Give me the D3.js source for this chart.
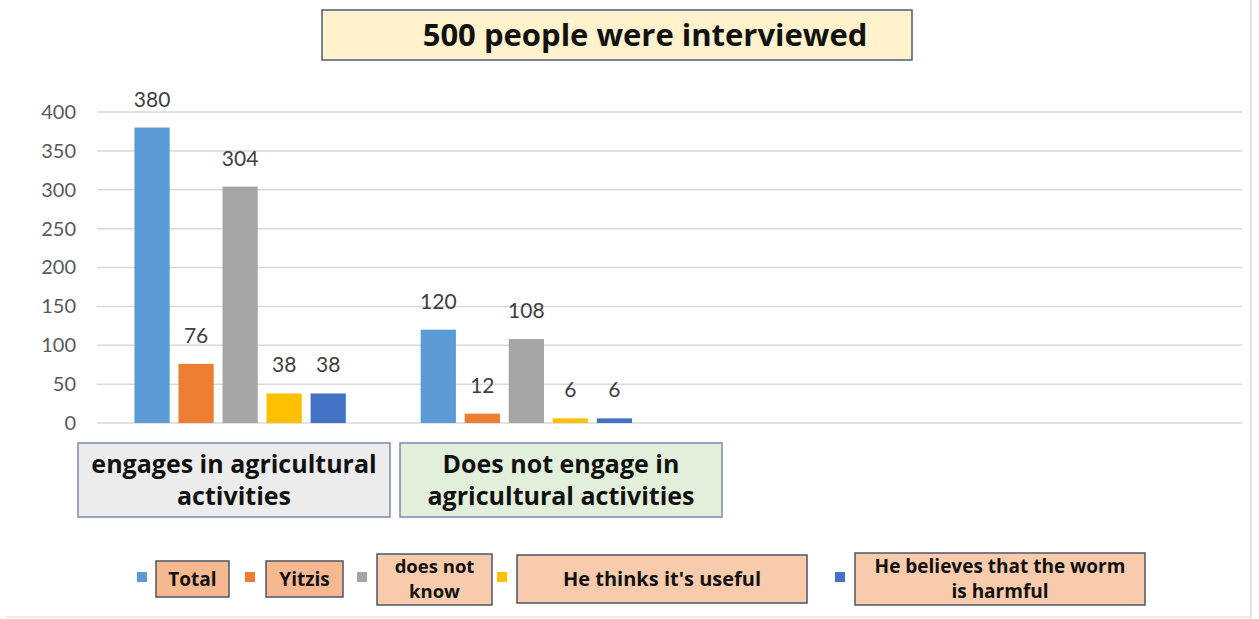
<!DOCTYPE html>
<html>
<head>
    <meta charset="utf-8">
    <title>500 people were interviewed</title>
    <script src="https://d3js.org/d3.v7.min.js"></script>
    <style>
        body { margin: 0; background: #fff; }
        .grid line { stroke: #d9d9d9; stroke-width: 1.5px; }
        .ytick text { font: 20px Lato, sans-serif; fill: #595959; }
        .value { font: 21px Lato, sans-serif; fill: #404040; text-anchor: middle; }
        .box-text { font-family: "Open Sans", sans-serif; font-weight: bold; fill: #111; text-anchor: middle; }
    </style>
</head>
<body>
<svg width="1259" height="619"></svg>
<script>
    // categories (last two slots are empty in the original chart)
    var categories = ["engages in agricultural activities", "Does not engage in agricultural activities", "", ""];
    var series = ["Total", "Yitzis", "does not know", "He thinks it's useful", "He believes that the worm is harmful"];
    var colors = ["#5b9bd5", "#ed7d31", "#a5a5a5", "#ffc000", "#4472c4"];
    var total   = [380, 120, null, null];
    var yitzis  = [76, 12, null, null];
    var unknown = [304, 108, null, null];
    var useful  = [38, 6, null, null];
    var harmful = [38, 6, null, null];
    var yTicks = [0, 50, 100, 150, 200, 250, 300, 350, 400];

    var values = [total, yitzis, unknown, useful, harmful];

    var svg = d3.select("svg");

    // chart frame (right + bottom edge visible)
    svg.append("line").attr("x1", 1251).attr("x2", 1251).attr("y1", 0).attr("y2", 618)
        .attr("stroke", "#d9d9d9").attr("stroke-width", 1.5);
    svg.append("line").attr("x1", 6).attr("x2", 1251).attr("y1", 617).attr("y2", 617)
        .attr("stroke", "#e3e3e3").attr("stroke-width", 1.5);

    var x0 = d3.scaleBand().domain(d3.range(categories.length)).range([97, 1242]);
    var x1 = d3.scaleBand().domain(d3.range(series.length)).range([0, x0.bandwidth()])
        .paddingInner(0.2).paddingOuter(0.85);
    var y = d3.scaleLinear().domain([0, 400]).range([423, 112]);

    // gridlines
    var grid = svg.append("g").attr("class", "grid");
    grid.selectAll("line").data(yTicks).enter().append("line")
        .attr("x1", 97).attr("x2", 1242)
        .attr("y1", function (d) { return y(d); })
        .attr("y2", function (d) { return y(d); });

    // y axis labels
    var yAxis = svg.append("g").attr("transform", "translate(80,0)")
        .call(d3.axisLeft(y).tickValues(yTicks).tickSize(0).tickPadding(4));
    yAxis.select(".domain").remove();
    yAxis.selectAll(".tick").attr("class", "tick ytick");
    yAxis.attr("font-size", null).attr("font-family", null);
    yAxis.selectAll("text").attr("fill", null);

    // bars
    var rows = [];
    values.forEach(function (vals, s) {
        vals.forEach(function (v, c) {
            if (v != null) rows.push({ s: s, c: c, v: v });
        });
    });

    svg.selectAll(".bar").data(rows).enter().append("rect")
        .attr("class", "bar")
        .attr("x", function (d) { return x0(d.c) + x1(d.s); })
        .attr("width", x1.bandwidth())
        .attr("y", function (d) { return y(d.v); })
        .attr("height", function (d) { return y(0) - y(d.v); })
        .attr("fill", function (d) { return colors[d.s]; });

    svg.selectAll(".value").data(rows).enter().append("text")
        .attr("class", "value")
        .attr("x", function (d) { return x0(d.c) + x1(d.s) + x1.bandwidth() / 2; })
        .attr("y", function (d) { return y(d.v) - 21; })
        .text(function (d) { return d.v; });

    // text boxes
    function textBox(x, yy, w, h, fill, stroke, lines, size, lineGap, cx) {
        var g = svg.append("g");
        g.append("rect").attr("x", x).attr("y", yy).attr("width", w).attr("height", h)
            .attr("fill", fill).attr("stroke", stroke).attr("stroke-width", 1.5);
        var start = yy + h / 2 - (lines.length - 1) * lineGap / 2;
        lines.forEach(function (t, i) {
            g.append("text").attr("class", "box-text")
                .attr("x", cx != null ? cx : x + w / 2).attr("y", start + i * lineGap)
                .attr("dy", "0.35em").attr("font-size", size).text(t);
        });
        return g;
    }

    // title
    textBox(322, 10, 590, 50, "#fff2cc", "#4d5b78", ["500 people were interviewed"], 31, 0, 645);

    // category boxes
    textBox(78, 443, 312, 74, "#ececec", "#7889a8", ["engages in agricultural", "activities"], 25, 32);
    textBox(400, 443, 322, 74, "#e2efda", "#7889a8", ["Does not engage in", "agricultural activities"], 25, 32);

    // legend
    var markerX = [137, 245, 357, 497, 835];
    svg.selectAll(".marker").data(series).enter().append("rect")
        .attr("class", "marker")
        .attr("x", function (d, i) { return markerX[i]; })
        .attr("y", 572).attr("width", 10).attr("height", 10)
        .attr("fill", function (d, i) { return colors[i]; });

    textBox(156, 561, 73, 36, "#f5b88f", "#4d5568", ["Total"], 19, 0);
    textBox(266, 561, 77, 36, "#f5b88f", "#4d5568", ["Yitzis"], 19, 0);
    textBox(377, 554, 115, 51, "#f8cbad", "#4d5568", ["does not", "know"], 18.5, 25);
    textBox(517, 555, 290, 48, "#f8cbad", "#4d5568", ["He thinks it's useful"], 20, 0);
    textBox(855, 553, 290, 52, "#f8cbad", "#4d5568", ["He believes that the worm", "is harmful"], 19, 25);
</script>
</body>
</html>
